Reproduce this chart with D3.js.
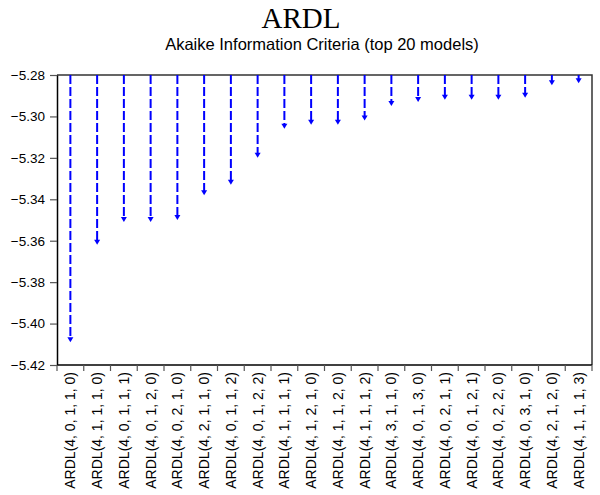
<!DOCTYPE html>
<html>
<head>
<meta charset="utf-8">
<script src="https://cdn.jsdelivr.net/npm/d3@7"></script>
<style>
  html, body { margin: 0; padding: 0; background: #fff; }
  svg { display: block; }
</style>
</head>
<body>
<svg id="chart" width="600" height="495"></svg>
<script>
// Model specifications ranked by Akaike Information Criterion
const models = [
  "ARDL(4, 0, 1, 1, 0)", "ARDL(4, 1, 1, 1, 0)", "ARDL(4, 0, 1, 1, 1)", "ARDL(4, 0, 1, 2, 0)",
  "ARDL(4, 0, 2, 1, 0)", "ARDL(4, 2, 1, 1, 0)", "ARDL(4, 0, 1, 1, 2)", "ARDL(4, 0, 1, 2, 2)",
  "ARDL(4, 1, 1, 1, 1)", "ARDL(4, 1, 2, 1, 0)", "ARDL(4, 1, 1, 2, 0)", "ARDL(4, 1, 1, 1, 2)",
  "ARDL(4, 3, 1, 1, 0)", "ARDL(4, 0, 1, 3, 0)", "ARDL(4, 0, 2, 1, 1)", "ARDL(4, 0, 1, 2, 1)",
  "ARDL(4, 0, 2, 2, 0)", "ARDL(4, 0, 3, 1, 0)", "ARDL(4, 2, 1, 2, 0)", "ARDL(4, 1, 1, 1, 3)"
];
const aicValues = [
  -5.409, -5.362, -5.351, -5.351, -5.350, -5.338, -5.333, -5.320, -5.306, -5.304,
  -5.304, -5.302, -5.295, -5.293, -5.292, -5.292, -5.292, -5.291, -5.285, -5.284
];
const yTicks = [-5.28, -5.30, -5.32, -5.34, -5.36, -5.38, -5.40, -5.42];
const yDomain = [-5.42, -5.28];

const title = "ARDL";
const subtitle = "Akaike Information Criteria (top 20 models)";

const svg = d3.select("#chart");
const plotLeft = 57, plotRight = 592, plotTop = 75, plotBottom = 365;

const x = d3.scaleBand().domain(models).range([plotLeft, plotRight]).padding(0);
const y = d3.scaleLinear().domain(yDomain).range([plotBottom, plotTop]);

// Titles
svg.append("text")
  .attr("x", 301).attr("y", 28)
  .attr("text-anchor", "middle")
  .attr("font-family", "'Liberation Serif', 'Times New Roman', serif")
  .attr("font-size", 29)
  .attr("fill", "#000")
  .text(title);

svg.append("text")
  .attr("x", 322).attr("y", 50)
  .attr("text-anchor", "middle")
  .attr("font-family", "'Liberation Sans', Arial, sans-serif")
  .attr("font-size", 16.5)
  .attr("fill", "#000")
  .text(subtitle);

// Frame: top and right edges
svg.append("path")
  .attr("d", `M${plotLeft},${plotTop}H${plotRight}V${plotBottom}`)
  .attr("fill", "none")
  .attr("stroke", "#333")
  .attr("stroke-width", 1.5);

// Left value axis
const yAxis = d3.axisLeft(y).tickValues(yTicks).tickFormat(d3.format(".2f")).tickSize(7).tickSizeOuter(0);
const gy = svg.append("g").attr("transform", `translate(${plotLeft},0)`).call(yAxis);
gy.select(".domain").attr("stroke", "#000").attr("stroke-width", 1.5);
gy.selectAll(".tick line").attr("stroke", "#555").attr("stroke-width", 1.2);
gy.selectAll(".tick text")
  .attr("font-family", "'Liberation Sans', Arial, sans-serif")
  .attr("font-size", 13.5)
  .attr("fill", "#000")
  .attr("x", -12);

// Bottom category axis: ticks on band boundaries
svg.append("line")
  .attr("x1", plotLeft).attr("x2", plotRight).attr("y1", plotBottom).attr("y2", plotBottom)
  .attr("stroke", "#000").attr("stroke-width", 1.5);
const bounds = models.map(m => x(m)).concat([plotRight]);
svg.append("g").selectAll("line").data(bounds).join("line")
  .attr("x1", d => d).attr("x2", d => d)
  .attr("y1", plotBottom).attr("y2", plotBottom + 6)
  .attr("stroke", "#555").attr("stroke-width", 1.2);

svg.append("g").selectAll("text").data(models).join("text")
  .attr("transform", d => `translate(${x(d) + x.bandwidth() / 2},${plotBottom + 7}) rotate(-90)`)
  .attr("text-anchor", "end")
  .attr("dy", "0.35em")
  .attr("font-family", "'Liberation Sans', Arial, sans-serif")
  .attr("font-size", 14)
  .attr("fill", "#000")
  .text(d => d);

// Dashed drop lines with arrowheads at each model's AIC
const data = models.map((m, i) => ({ model: m, value: aicValues[i] }));
const arrowH = 5, arrowW = 3;
const g = svg.append("g");
g.selectAll("line.drop").data(data).join("line")
  .attr("class", "drop")
  .attr("x1", d => x(d.model) + x.bandwidth() / 2)
  .attr("x2", d => x(d.model) + x.bandwidth() / 2)
  .attr("y1", y(yDomain[1]))
  .attr("y2", d => y(d.value) - arrowH + 1)
  .attr("stroke", "#0000ff")
  .attr("stroke-width", 2)
  .attr("stroke-dasharray", "9,3");
g.selectAll("path.head").data(data).join("path")
  .attr("class", "head")
  .attr("d", d => {
    const cx = x(d.model) + x.bandwidth() / 2, ty = y(d.value);
    return `M${cx - arrowW},${ty - arrowH}L${cx + arrowW},${ty - arrowH}L${cx},${ty}Z`;
  })
  .attr("fill", "#0000ff");
</script>
</body>
</html>
